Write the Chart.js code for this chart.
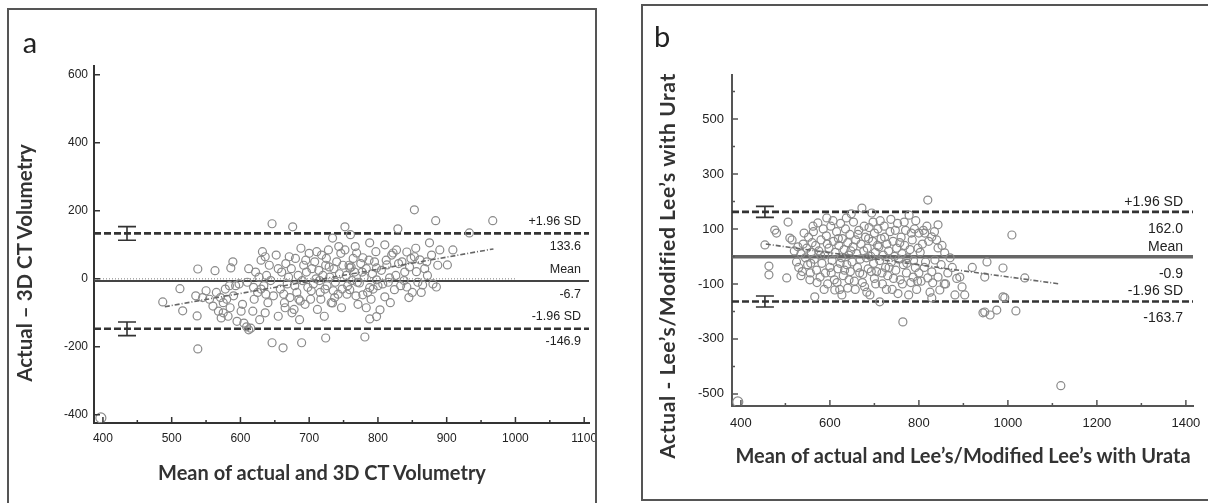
<!DOCTYPE html>
<html>
<head>
<meta charset="utf-8">
<script src="https://cdn.jsdelivr.net/npm/chart.js@4"></script>
<style>
html,body{margin:0;padding:0;width:1208px;height:503px;overflow:hidden;background:#fff}
.clip{position:absolute;overflow:hidden}
.clip canvas{position:absolute;left:0;top:0}
.frame{position:absolute;border:2px solid #555;box-sizing:border-box;pointer-events:none}
.ttl{position:absolute;font-family:Lato,'Open Sans',sans-serif;font-weight:bold;color:#333;white-space:nowrap;transform:translate(-50%,-50%)}
.vt{transform:translate(-50%,-50%) rotate(-90deg)}
.lt{position:absolute;font-family:Lato,'Open Sans',sans-serif;color:#222;font-size:29px;transform:translate(-50%,-50%)}
</style>
</head>
<body>
<div class="clip" style="left:0;top:0;width:596px;height:503px"><canvas id="ChartA" width="620" height="503"></canvas></div>
<div class="clip" style="left:604px;top:0;width:604px;height:503px"><canvas id="ChartB" width="620" height="503"></canvas></div>
<div class="frame" style="left:7px;top:8px;width:590px;height:510px"></div>
<div class="frame" style="left:641px;top:4px;width:600px;height:497px"></div>
<div class="lt" style="left:30px;top:41px">a</div>
<div class="lt" style="left:662px;top:35px">b</div>
<div class="ttl" style="left:322px;top:472px;font-size:20px">Mean of actual and 3D CT Volumetry</div>
<div class="ttl vt" style="left:24px;top:263px;font-size:20.5px">Actual – 3D CT Volumetry</div>
<div class="ttl" style="left:963px;top:455px;font-size:20px">Mean of actual and Lee’s/Modified Lee’s with Urata</div>
<div class="ttl vt" style="left:666px;top:266px;font-size:21px;letter-spacing:0.6px">Actual - Lee’s/Modified Lee’s with Urat</div>
<script>
// ---------- panel a : actual vs 3D CT volumetry ----------
const ptsA=[
[487,-68],[512,-29],[516,-94],[537,-109],[538,29],[538,-206],[535,-50],[545,-55],
[563,24],[586,32],[589,50],[572,-115],[555,-60],[560,-80],[565,-40],[568,-95],[575,-70],[578,-30],[582,-110],[585,-85],[590,-50],[595,-125],[598,-15],[575,-100],[550,-35],[580,-60],[571,-55],[584,-20],[593,-20],
[609,-141],[605,-130],[603,-75],[610,-10],[612,30],[618,-95],[620,-60],[622,20],[625,-40],[628,-120],[630,55],[632,80],[634,-20],[636,-100],[638,10],[640,-70],[642,40],[644,-5],[646,162],[646,-188],[648,-50],[612,-150],[615,-145],[630,-30],[636,65],[601,-95],[619,-25],[627,5],[637,-45],
[652,70],[655,-110],[658,-30],[660,20],[662,-203],[664,-70],[666,45],[668,-15],[670,5],[672,-55],[674,30],[676,153],[678,-90],[680,60],[682,-40],[684,10],[686,-120],[688,90],[689,-188],[690,-5],[692,40],[694,-75],[696,20],[698,-25],[700,75],[665,-85],[675,-100],[685,-60],
[655,30],[663,-45],[671,65],[679,-20],[687,-65],[695,55],
[702,-60],[704,30],[706,-15],[708,50],[710,0],[712,-90],[714,25],[716,-40],[718,70],[720,10],[722,-110],[724,-174],[724,40],[726,-20],[728,85],[730,5],[732,-70],[734,-71],[734,120],[736,30],[738,-10],[740,50],[742,-45],[744,15],[746,75],[747,-85],[748,-30],[715,-5],[725,60],[735,-35],
[703,-35],[711,80],[717,-60],[723,-30],[729,35],[737,-55],[743,95],[749,40],
[752,153],[752,85],[754,10],[756,-20],[758,40],[759,32],[759,-32],[760,130],[762,-5],[764,60],[766,20],[768,-50],[769,76],[770,-10],[773,-12],[775,45],[778,62],[778,-47],[780,5],[781,-171],[783,30],[785,-40],[788,106],[788,-26],[788,-118],[790,-60],[792,15],[795,50],[798,32],[798,-3],[798,-111],[800,-20],
[755,-45],[761,35],[767,95],[771,-75],[777,20],[783,-85],[787,55],[793,-30],[797,80],
[803,-91],[805,25],[810,100],[810,-53],[813,41],[815,-10],[817,3],[820,70],[822,76],[824,-32],[826,10],[829,147],[830,45],[835,50],[838,-5],[842,79],[842,-24],[846,35],[848,60],[850,-40],
[807,-15],[812,55],[818,-70],[827,85],[833,-20],[839,20],[845,-55],
[853,203],[853,65],[856,21],[858,-10],[861,56],[865,-18],[868,30],[871,50],[875,106],[878,70],[880,-15],[884,171],[885,-24],[887,40],[890,85],[855,90],[863,-40],[872,10],
[901,41],[909,85],[933,135],[967,171]
];
const cornerA=[[397,-409]];
const statsA=[133.6,-6.7,-146.9];           // +1.96 SD, mean, -1.96 SD
const textA=[['+1.96 SD','133.6'],['Mean','-6.7'],['-1.96 SD','-146.9']];
const ciA=[435,20];                         // x position, half CI
const regA=[[490,-82],[968,88]];
const zeroA=[[387,0],[1000,0]];
const aX=[387,1107], aY=[-424,626];
const aXMajor=[400,500,600,700,800,900,1000,1100];
const aXMinor=[450,550,650,750,850,950,1050];
const aYMajor=[-400,-200,0,200,400,600];
const aYMinor=[];

// ---------- panel b : actual vs Lee's/Modified Lee's with Urata ----------
const ptsB=[
[454,42],[463,-35],[463,-67],[476,96],[480,85],[503,-78],[506,125],[510,67],[515,60],[520,20],
[528,35],[525,-20],[530,-40],[535,10],[538,-55],[540,45],[545,-5],[548,30],[550,-30],[552,70],[555,-85],[556,-60],[558,15],[560,50],[535,-70],[542,85],[557,-25],
[566,-147],[563,90],[565,-10],[568,40],[570,-50],[573,122],[575,20],[578,-75],[580,60],[582,-25],[585,100],[588,5],[590,-60],[592,75],[593,140],[595,-100],[598,30],[600,-40],[562,110],[571,-95],[579,5],[587,-120],[594,45],
[602,110],[605,-15],[608,55],[610,-85],[611,-122],[612,15],[615,90],[618,-45],[620,40],[622,-120],[624,120],[626,-5],[627,-140],[628,65],[630,-70],[632,25],[635,100],[638,-30],[640,-115],[640,50],[642,5],[645,80],[646,-55],[648,155],[650,-20],
[603,-60],[607,130],[616,-95],[619,65],[623,-25],[633,-50],[637,140],[643,-85],[647,20],
[652,35],[655,-90],[658,60],[660,10],[662,-40],[665,95],[668,-10],[670,45],[672,176],[674,-65],[676,20],[678,-110],[680,70],[682,-5],[684,30],[686,-45],[688,105],[690,-140],[692,0],[694,158],[696,55],[698,-25],[700,85],[700,-80],
[653,125],[657,-120],[663,80],[667,-60],[673,-95],[677,110],[683,-130],[687,65],[693,-55],[697,125],
[702,15],[705,-55],[708,100],[710,35],[712,-165],[712,-15],[715,65],[718,-100],[720,5],[722,110],[725,-40],[728,45],[730,-70],[732,20],[735,90],[738,-20],[740,-120],[742,55],[745,0],[748,-50],[750,30],
[703,-100],[707,40],[713,130],[717,-60],[723,70],[727,-120],[733,-40],[737,135],[743,-80],[747,95],
[752,120],[755,-10],[758,-85],[760,70],[762,10],[764,-238],[765,-30],[768,40],[770,95],[772,-60],[775,-5],[778,150],[780,25],[782,-95],[785,60],[788,-15],[790,100],[792,-40],[795,-120],[798,30],[800,85],[800,-60],
[753,-135],[757,50],[763,-100],[767,125],[773,-25],[777,-140],[783,85],[787,-75],[793,130],[797,-90],
[805,-90],[808,45],[810,95],[813,85],[815,-20],[820,205],[820,-78],[822,55],[825,-130],[829,71],[829,-56],[829,-151],[831,-96],[836,-13],[840,60],[843,115],[843,31],[843,-75],[847,-122],[850,-30],
[803,15],[812,-40],[818,110],[835,90],
[858,13],[860,-100],[865,-60],[870,-5],[875,-40],[881,-140],[885,-80],[892,-75],[897,-111],[903,-140],[852,40],[857,-100],
[920,-40],[944,-205],[948,-75],[948,-202],[953,-20],[960,-213],[975,-195],[989,-42],[989,-147],[993,-150],[1009,78],[1018,-198],[1038,-78],[1119,-470]
];
const cornerB=[[393,-529]];
const statsB=[162.0,-0.9,-163.7];
const textB=[['+1.96 SD','162.0'],['Mean','-0.9'],['-1.96 SD','-163.7']];
const ciB=[454,20];
const regB=[[456,45],[1117,-100]];
const bX=[380,1416], bY=[-544,660];
const bXMajor=[400,600,800,1000,1200,1400];
const bXMinor=[500,700,900,1100,1300];
const bYMajor=[-500,-300,-100,100,300,500];
const bYMinor=[-400,-200,0,200,400,600];

// inward tick marks
const innerTicks={id:'innerTicks',afterDraw(chart,args,o){
 const ctx=chart.ctx,a=chart.chartArea,xs=chart.scales.x,ys=chart.scales.y;
 ctx.save();ctx.strokeStyle=o.color;ctx.lineWidth=o.width;ctx.beginPath();
 xs.ticks.forEach(t=>{const p=xs.getPixelForValue(t.value);const l=o.xMajor.includes(t.value)?o.major:o.minor;ctx.moveTo(p,a.bottom);ctx.lineTo(p,a.bottom-l)});
 ys.ticks.forEach(t=>{const p=ys.getPixelForValue(t.value);const l=o.yMajor.includes(t.value)?o.major:o.minor;ctx.moveTo(a.left,p);ctx.lineTo(a.left+l,p)});
 ctx.stroke();ctx.restore();
}};
// labels on the limit lines + CI bars
const limitText={id:'limitText',afterDatasetsDraw(chart,args,o){
 const ctx=chart.ctx,a=chart.chartArea,xs=chart.scales.x,ys=chart.scales.y;
 ctx.save();ctx.fillStyle='#222';ctx.font=o.font;ctx.textAlign='right';
 o.values.forEach((v,i)=>{const p=ys.getPixelForValue(v);
  ctx.textBaseline='middle';
  ctx.fillText(o.text[i][0],a.right-o.right,p-o.up);
  ctx.fillText(o.text[i][1],a.right-o.right,p+o.down);
 });
 ctx.strokeStyle='#333';ctx.lineWidth=1.6;
 [o.values[0],o.values[2]].forEach(v=>{
  const px=xs.getPixelForValue(o.ci[0]),t=ys.getPixelForValue(v+o.ci[1]),b=ys.getPixelForValue(v-o.ci[1]);
  ctx.beginPath();ctx.moveTo(px,t);ctx.lineTo(px,b);
  ctx.moveTo(px-9,t);ctx.lineTo(px+9,t);ctx.moveTo(px-9,b);ctx.lineTo(px+9,b);ctx.stroke();
 });
 ctx.restore();
}};

function seg(p){return p.map(q=>({x:q[0],y:q[1]}))}
function hline(v,r){return [{x:r[0],y:v},{x:r[1],y:v}]}

function makeChart(id,c){
 const tickFont={family:"'Liberation Sans',Arial,sans-serif",size:c.tickSize};
 const ds=[
  {data:seg(c.pts),borderColor:'#8a8a8a',backgroundColor:'rgba(0,0,0,0)',pointRadius:4,pointBorderWidth:1.2,order:1},
  {data:seg(c.corner),borderColor:'#8a8a8a',backgroundColor:'rgba(0,0,0,0)',pointRadius:5,pointBorderWidth:1.2,order:1},
  {data:hline(c.stats[0],c.xr),showLine:true,pointRadius:0,borderColor:'#333',borderWidth:2.6,borderDash:[7,3],order:2},
  {data:hline(c.stats[1],c.xr),showLine:true,pointRadius:0,borderColor:c.meanColor,borderWidth:c.meanWidth,order:2},
  {data:hline(c.stats[2],c.xr),showLine:true,pointRadius:0,borderColor:'#333',borderWidth:2.6,borderDash:[7,3],order:2},
  {data:seg(c.reg),showLine:true,pointRadius:0,borderColor:'#666',borderWidth:1.6,borderDash:[5,2,1,2],order:0}
 ];
 if(c.zero) ds.push({data:seg(c.zero),showLine:true,pointRadius:0,borderColor:'#aaa',borderWidth:1.5,borderDash:[1,2],order:3});
 const axis=(r,maj,min,pad,w)=>({type:'linear',min:r[0],max:r[1],
   afterBuildTicks:s=>{s.ticks=[...maj,...min].sort((p,q)=>p-q).map(v=>({value:v}))},
   ticks:{autoSkip:false,maxRotation:0,padding:pad,color:'#222',font:tickFont,callback:v=>maj.includes(v)?String(v):''},
   grid:{display:true,drawOnChartArea:false,drawTicks:false},
   border:{display:true,color:c.axisColor,width:w}});
 const xs=axis(c.xr,c.xMaj,c.xMin,c.xPad,2);xs.afterFit=s=>{s.height=30};
 const ys=axis(c.yr,c.yMaj,c.yMin,c.yPad,2);ys.afterFit=s=>{s.width=c.yW};
 return new Chart(document.getElementById(id),{
  type:'scatter',
  data:{datasets:ds},
  options:{responsive:false,animation:false,events:[],
   layout:{padding:c.pad},
   scales:{x:xs,y:ys},
   plugins:{legend:{display:false},tooltip:{enabled:false},
    innerTicks:{color:c.axisColor,width:1.5,major:6,minor:3,xMajor:c.xMaj,yMajor:c.yMaj},
    limitText:{values:c.stats,text:c.text,font:c.labFont,right:c.labRight,up:c.up,down:c.down,ci:c.ci}}
  },
  plugins:[innerTicks,limitText]
 });
}

let ChartA=makeChart('ChartA',{pts:ptsA,corner:cornerA,stats:statsA,text:textA,ci:ciA,reg:regA,zero:zeroA,
 xr:aX,yr:aY,xMaj:aXMajor,xMin:aXMinor,yMaj:aYMajor,yMin:aYMinor,
 tickSize:12,xPad:8,yPad:6,yW:54,pad:{left:40,top:66,right:31,bottom:50},
 axisColor:'#333',meanColor:'#444',meanWidth:2,labFont:"12.5px 'Liberation Sans',Arial,sans-serif",labRight:8,up:12,down:13});

let ChartB=makeChart('ChartB',{pts:ptsB,corner:cornerB,stats:statsB,text:textB,ci:ciB,reg:regB,
 xr:bX,yr:bY,xMaj:bXMajor,xMin:bXMinor,yMaj:bYMajor,yMin:bYMinor,
 tickSize:13,xPad:10,yPad:8,yW:68,pad:{left:60,top:75,right:31,bottom:67},
 axisColor:'#555',meanColor:'#666',meanWidth:3.5,labFont:"14px 'Liberation Sans',Arial,sans-serif",labRight:10,up:10,down:17});
</script>
</body>
</html>
